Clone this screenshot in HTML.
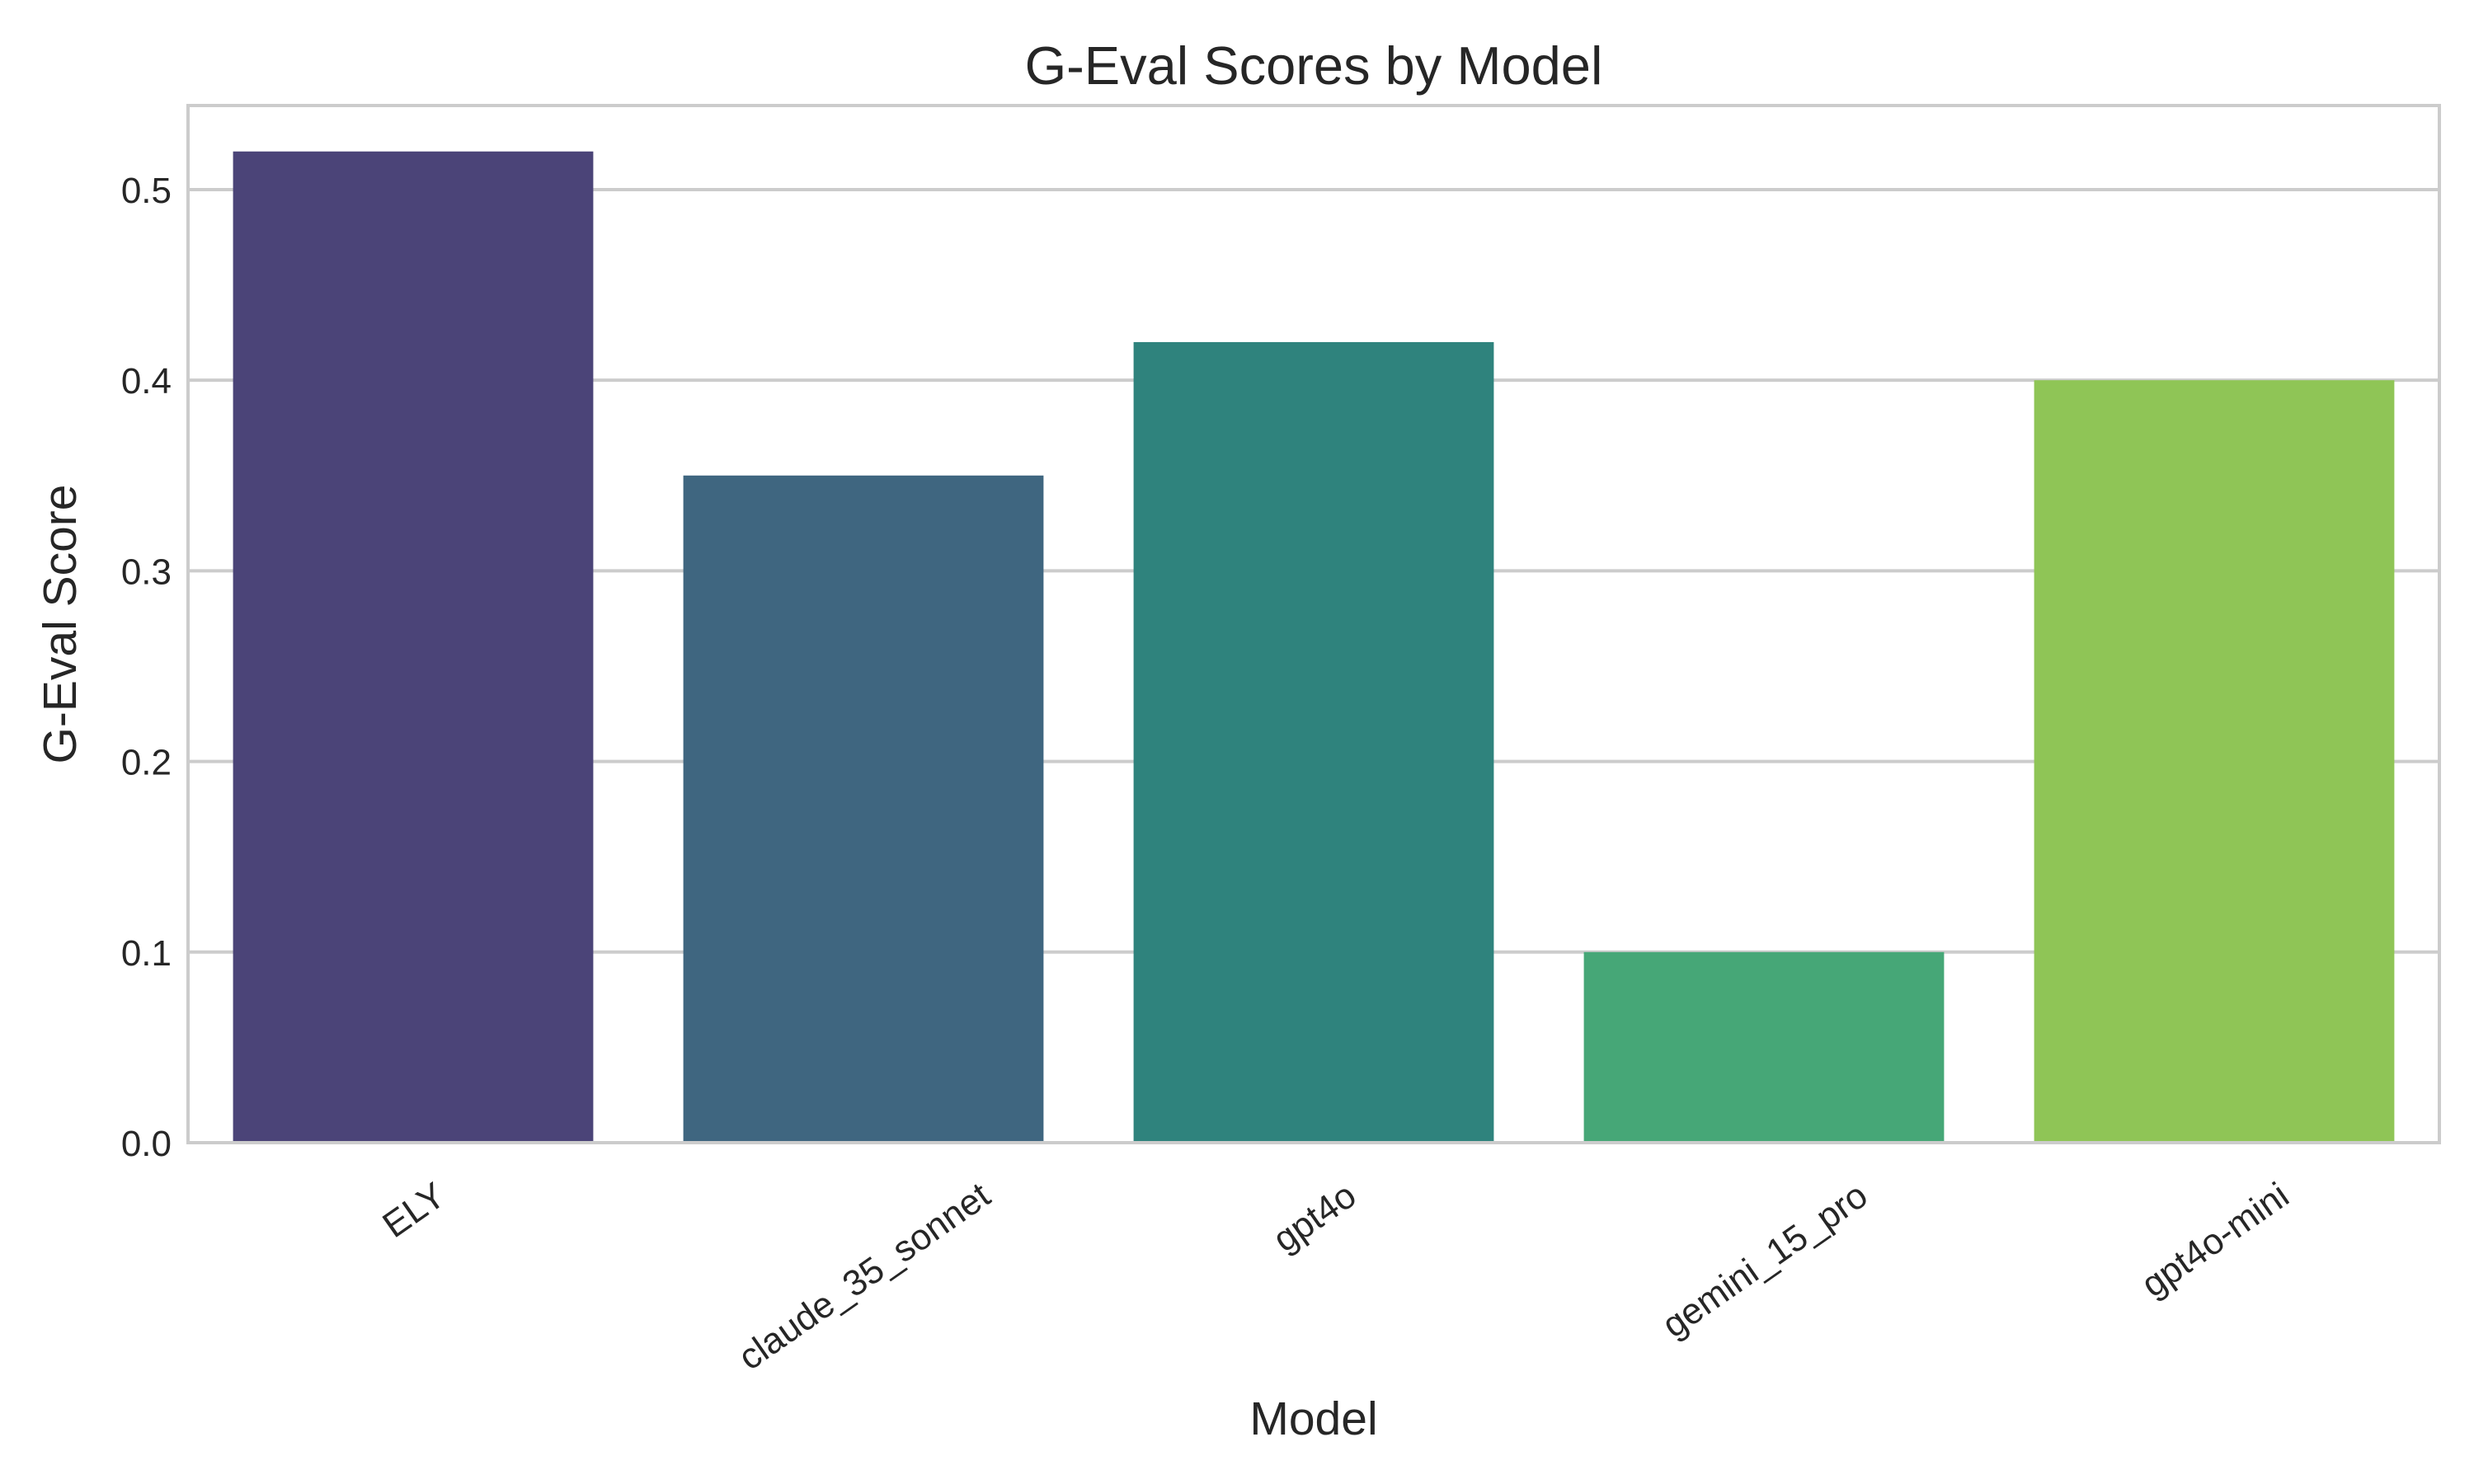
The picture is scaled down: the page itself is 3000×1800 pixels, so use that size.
<!DOCTYPE html>
<html><head><meta charset="utf-8"><style>
html,body{margin:0;padding:0;background:#fff;}
svg{display:block;font-family:"Liberation Sans",sans-serif;}
</style></head><body>
<svg id="chart" width="3000" height="1800" viewBox="0 0 3000 1800">
<rect width="3000" height="1800" fill="#fff"/>
<g id="grid"></g>
<g id="bars"></g>
<rect x="228" y="128" width="2730" height="1258" fill="none" stroke="#cccccc" stroke-width="4"/>
<g id="yticks"></g>
<g id="xticks"></g>
<text x="1593" y="102" text-anchor="middle" font-size="65" fill="#262626">G-Eval Scores by Model</text>
<text x="1593" y="1740" text-anchor="middle" font-size="57" fill="#262626">Model</text>
<text x="92" y="757" text-anchor="middle" font-size="57" fill="#262626" transform="rotate(-90 92 757)">G-Eval Score</text>
</svg>
<script>
const categories = ["ELY","claude_35_sonnet","gpt4o","gemini_15_pro","gpt4o-mini"];
const scores = [0.52,0.35,0.42,0.10,0.40];
const barColors = ["#4b4478","#3f6680","#2f837d","#46a777","#8fc556"];
const yTicks = [0.0,0.1,0.2,0.3,0.4,0.5];
const yTickLabels = ["0.0","0.1","0.2","0.3","0.4","0.5"];

const NS="http://www.w3.org/2000/svg";
const L=228,R=2958,T=128,B=1386,YMAX=0.5441;
function yS(v){return B-(v/YMAX)*(B-T);}
const band=(R-L)/categories.length;
function xC(i){return L+band*(i+0.5);}
function mk(tag,attrs,parent){const e=document.createElementNS(NS,tag);for(const k in attrs)e.setAttribute(k,attrs[k]);parent.appendChild(e);return e;}
const grid=document.getElementById('grid'),bars=document.getElementById('bars'),yt=document.getElementById('yticks'),xt=document.getElementById('xticks');
yTicks.forEach((v,i)=>{
  const ln=mk('line',{x1:L,x2:R,y1:yS(v),y2:yS(v),stroke:'#cccccc','stroke-width':4},grid);
  
  
  const t=mk('text',{x:L-20,y:yS(v)+16,'text-anchor':'end','font-size':44,fill:'#262626'},yt);
  t.textContent=yTickLabels[i];
  
  
});
const ANG=35, TOP=1430, FS=44;
categories.forEach((c,i)=>{
  const w=band*0.8;
  const r=mk('rect',{x:xC(i)-w/2,y:yS(scores[i]),width:w,height:B-yS(scores[i]),fill:barColors[i]},bars);
  
  
  const t=mk('text',{x:0,y:0,'text-anchor':'middle','font-size':FS,fill:'#262626'},xt);
  t.textContent=c;
  
  
  const len=t.getComputedTextLength();
  const a=ANG*Math.PI/180;
  const h=FS*0.75;
  const halfH=(len*Math.sin(a)+h*Math.cos(a))/2;
  const cx=xC(i), cy=TOP+halfH;
  // text center (baseline middle shifted up by h/2) at (cx,cy)
  const x=cx, y=cy;
  t.setAttribute('transform',`translate(${x} ${y}) rotate(${-ANG}) translate(0 ${h/2})`);
});
</script>
</body></html>
